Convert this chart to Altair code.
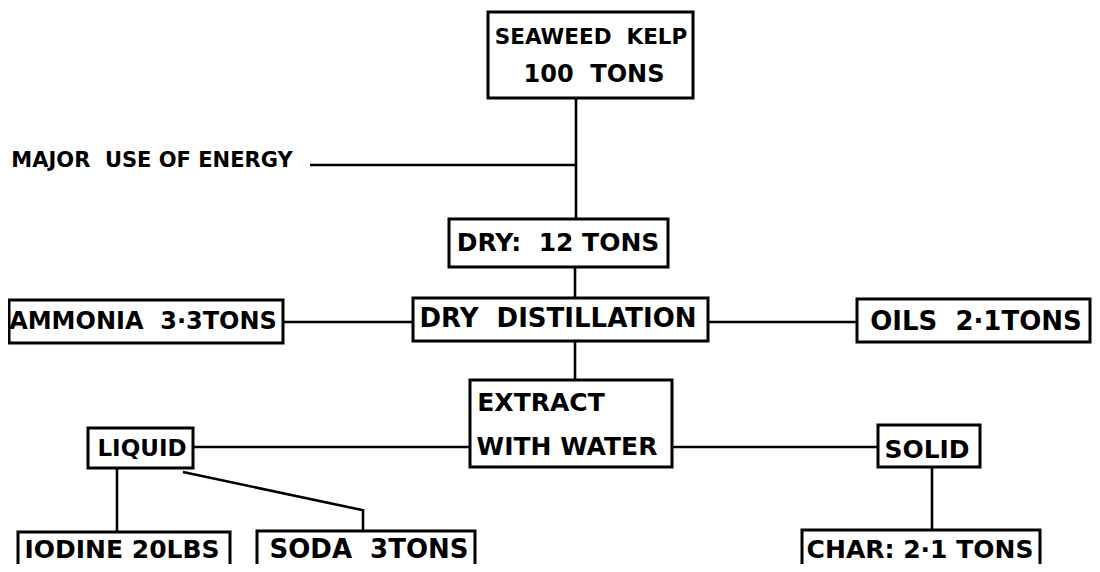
import altair as alt
import pandas as pd

NB = "\u00a0"

# ---- content: labels of the flow chart ----
labels = [
    "SEAWEED" + NB + " KELP", "100" + NB + " TONS",
    "MAJOR" + NB + " USE OF ENERGY",
    "DRY:" + NB + " 12 TONS",
    "DRY" + NB + " DISTILLATION",
    "AMMONIA" + NB + " 3·3TONS",
    "OILS" + NB + " 2·1TONS",
    "EXTRACT", "WITH WATER",
    "LIQUID", "SOLID",
    "IODINE 20LBS",
    "SODA" + NB + " 3TONS",
    "CHAR: 2·1 TONS",
]
# layout of the labels (centre of each text line, in page pixels)
label_x = [591, 594, 152, 558, 558, 143, 976, 541, 567, 142, 927, 122, 369, 920]
label_y = [38, 75, 161, 243, 319, 322, 322, 403, 447, 449, 450, 550, 550, 550]
label_size = [21.5, 24, 21, 25, 26, 24, 26, 25, 25, 23, 25, 25, 26, 25]

# boxes
box_name = ["seaweed", "dry", "distillation", "ammonia", "oils", "extract",
            "liquid", "solid", "iodine", "soda", "char"]
box_x1 = [488, 449, 413, 9, 857, 470, 88, 878, 18, 257, 802]
box_x2 = [693, 668, 708, 283, 1090, 672, 193, 980, 230, 475, 1040]
box_y1 = [12, 219, 298, 300, 299, 380, 428, 425, 532, 531, 530]
box_y2 = [98, 267, 341, 343, 342, 467, 468, 467, 590, 590, 590]

# connecting segments
seg_x1 = [576, 310, 575, 283, 708, 575, 193, 672, 117, 183, 363, 932]
seg_x2 = [576, 577, 575, 413, 857, 575, 470, 878, 117, 362, 363, 932]
seg_y1 = [98, 165, 267, 322, 322, 341, 447, 447, 468, 472, 509, 467]
seg_y2 = [219, 165, 298, 322, 322, 380, 447, 447, 532, 510, 531, 530]

labels_df = pd.DataFrame({"label": labels, "x": label_x, "y": label_y, "size": label_size})
boxes_df = pd.DataFrame({"name": box_name, "x1": box_x1, "x2": box_x2, "y1": box_y1, "y2": box_y2})
segs_df = pd.DataFrame({"x1": seg_x1, "x2": seg_x2, "y1": seg_y1, "y2": seg_y2})

W, H = 1084, 556
xs = alt.Scale(domain=[8, 8 + W], nice=False, zero=False)
ys = alt.Scale(domain=[8, 8 + H], nice=False, zero=False, reverse=True)

segs = alt.Chart(segs_df).mark_rule(color="black", strokeWidth=2.6).encode(
    x=alt.X("x1:Q", scale=xs, axis=None),
    x2="x2:Q",
    y=alt.Y("y1:Q", scale=ys, axis=None),
    y2="y2:Q",
)

boxes = alt.Chart(boxes_df).mark_rect(fill="white", stroke="black", strokeWidth=3).encode(
    x=alt.X("x1:Q", scale=xs, axis=None),
    x2="x2:Q",
    y=alt.Y("y1:Q", scale=ys, axis=None),
    y2="y2:Q",
)

texts = alt.Chart(labels_df).mark_text(
    font="DejaVu Sans", fontWeight="bold", align="center", baseline="middle", color="black"
).encode(
    x=alt.X("x:Q", scale=xs, axis=None),
    y=alt.Y("y:Q", scale=ys, axis=None),
    text="label:N",
    size=alt.Size("size:Q", scale=None, legend=None),
)

chart = (segs + boxes + texts).properties(
    width=W, height=H, padding=0, autosize=alt.AutoSizeParams(type="none"),
    background="white",
).configure_view(stroke=None)

chart.save("out.html", embed_options={"renderer": "svg", "actions": False})
